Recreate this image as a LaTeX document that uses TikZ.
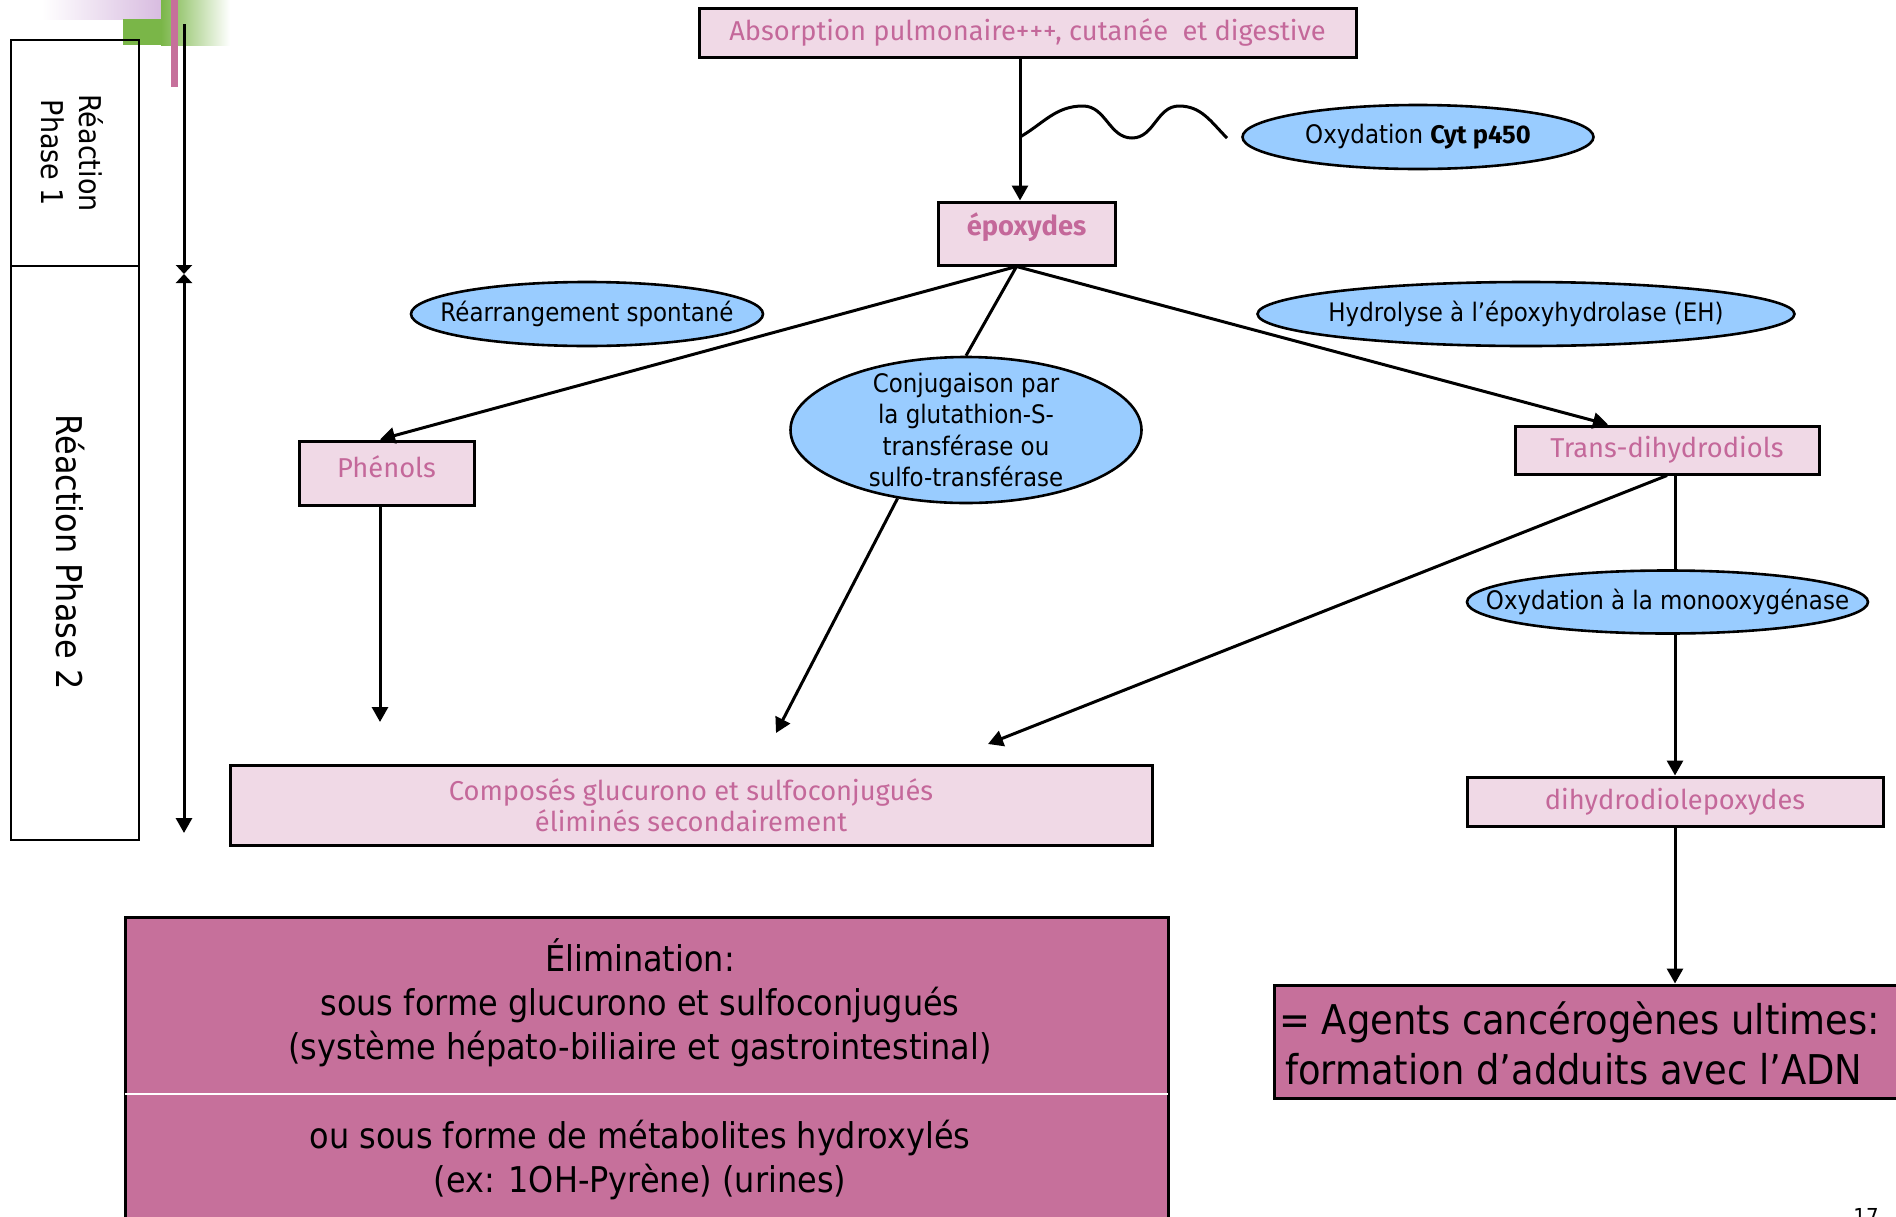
\documentclass[tikz,border=0pt]{standalone}
\usepackage{fontspec}
\setmainfont{DejaVu Sans}[FakeStretch=0.9]
\newfontfamily\pinkfont{Fira Sans}
\usetikzlibrary{arrows.meta,shapes.geometric}

\definecolor{boxpink}{HTML}{F0D9E6}
\definecolor{textpink}{HTML}{C4689A}
\definecolor{mauve}{HTML}{C6709B}
\definecolor{skyblue}{HTML}{99CCFF}
\definecolor{leafgreen}{HTML}{7AB648}
\definecolor{lilac}{HTML}{D8BCE0}

\begin{document}
\begin{tikzpicture}[x=1pt,y=-1pt,>={Triangle[length=15pt,width=16pt]},
    pinkbox/.style={draw,line width=3pt,fill=boxpink,text=textpink,align=center,
      font=\pinkfont\fontsize{27.3}{31}\selectfont,inner sep=0pt},
    bluebubble/.style={ellipse,draw,line width=2.6pt,fill=skyblue,align=center,
      font=\fontsize{25.5}{31.5}\selectfont,inner xsep=-60pt,inner ysep=-12pt},
    mauvebox/.style={draw,line width=3pt,fill=mauve,inner sep=0pt},
    phasebox/.style={draw,line width=2.8pt,inner sep=0pt,minimum width=128pt},
    link/.style={line width=3pt}]
  \useasboundingbox (0,0) rectangle (1896,1216);
  \clip (0,0) rectangle (1896,1216);

  % slide corner
  \shade[left color=white,right color=lilac] (42,0) rectangle (161,19);
  \fill[leafgreen] (123,19) rectangle (161,45);
  \shade[left color=leafgreen,right color=white] (161,0) rectangle (230,45);
  \fill[mauve] (171,0) rectangle (178,87);

  % phases
  \node[phasebox,minimum height=226pt] (ph1) at (75,153) {};
  \node[phasebox,minimum height=574pt] (ph2) at (75,553) {};
  \node[rotate=-90,align=center,font=\fontsize{30}{38}\selectfont] (ph1txt) at (72.5,153) {Réaction\\Phase 1};
  \node[rotate=-90,font=\fontsize{35.5}{40}\selectfont] (ph2txt) at (70,552) {Réaction Phase 2};
  \coordinate (vTop) at (184,24);
  \coordinate (vMid) at (184,274);
  \coordinate (vBot) at (184,833);
  \draw[link,-{Triangle[length=9pt,width=16pt]}] (vTop) -- (vMid);
  \draw[link,{Triangle[length=9pt,width=16pt]}-{Triangle[length=15pt,width=16pt]}] (vMid) -- (vBot);

  % boxes
  \node[pinkbox,minimum width=657pt,minimum height=49pt] (absorb) at (1027.5,32.5) {Absorption pulmonaire+++, cutanée~ et digestive};
  \node[pinkbox,minimum width=177pt,minimum height=63pt,text depth=18pt,font=\pinkfont\bfseries\fontsize{27.3}{31}\selectfont] (epox) at (1026.5,233.5) {époxydes};
  \node[pinkbox,minimum width=175pt,minimum height=64pt,text depth=12pt] (phen) at (386.5,473) {Phénols};
  \node[pinkbox,minimum width=304pt,minimum height=48pt] (trans) at (1667,450) {Trans-dihydrodiols};
  \node[pinkbox,minimum width=416pt,minimum height=49pt] (dihyd) at (1675,801.5) {dihydrodiolepoxydes};
  \node[pinkbox,minimum width=922pt,minimum height=80pt] (compo) at (691,805) {Composés glucurono et sulfoconjugués\\éliminés secondairement};

  % enzymes
  \node[bluebubble,minimum width=351pt,minimum height=64pt] (cyp) at (1418,137) {Oxydation {\pinkfont\bfseries Cyt p450}};
  \node[bluebubble,minimum width=352pt,minimum height=64pt] (rearr) at (587,314) {Réarrangement spontané};
  \node[bluebubble,minimum width=537pt,minimum height=64pt] (hydro) at (1526,314) {Hydrolyse à l’époxyhydrolase (EH)};
  \node[bluebubble,minimum width=351pt,minimum height=146pt] (conj) at (966,430) {Conjugaison par\\la glutathion-S-\\transférase ou\\sulfo-transférase};
  \node[bluebubble,minimum width=401pt,minimum height=63pt] (mono) at (1667.5,602) {Oxydation à la monooxygénase};

  % elimination
  \node[mauvebox,minimum width=1043pt,minimum height=313pt] (elim) at (646.5,1073.5) {};
  \draw[white,line width=1.5pt,shorten <=1.5pt,shorten >=1.5pt] (elim.west |- 0,1094) -- (elim.east |- 0,1094);
  \node[align=center,font=\fontsize{35.5}{44}\selectfont] (elimTop) at (640,1003) {Élimination:\\sous forme glucurono et sulfoconjugués\\(système hépato-biliaire et gastrointestinal)};
  \node[align=center,font=\fontsize{35.5}{44}\selectfont] (elimBot) at (640,1160) {ou sous forme de métabolites hydroxylés\\(ex: 1OH-Pyrène) (urines)};
  \node[mauvebox,minimum width=660pt,minimum height=113pt] (agents) at (1604,1041.5) {};
  \node[anchor=west,align=left,inner sep=0pt,font=\fontsize{41}{50}\selectfont] (agentsTxt) at (1279,1043.5) {= Agents cancérogènes ultimes:\\\hspace*{6pt}formation d’adduits avec l’ADN};
  \node[anchor=north,inner sep=0pt,font=\fontsize{22}{22}\selectfont] (pageno) at (1866,1208) {17};

  % arrows
  \coordinate (jA) at (1020,137);
  \draw[link,->] (absorb.south -| jA) -- (epox.north -| jA);
  \draw[link] (jA) to[out=30,in=180] ++(63,-31) to[out=0,in=180] ++(49,32)
    to[out=0,in=180] ++(47,-32) to[out=0,in=135] ++(48,32);
  \coordinate (fan) at ([xshift=-10pt]epox.south);
  \coordinate (phenOut) at (380,722);
  \coordinate (conjOut) at (776,733);
  \coordinate (transOut) at (988,744);
  \draw[link,->] (fan) -- (phen.north -| phenOut);
  \draw[link] (fan) -- (conj.north);
  \draw[link,->] (fan) -- ([xshift=-59pt]trans.north);
  \draw[link,->] (phen.south -| phenOut) -- (phenOut);
  \draw[link,->] (conj.225) -- (conjOut);
  \draw[link,->] (trans.south) -- (transOut);
  \draw[link] (trans.south -| dihyd.north) -- (mono.north -| dihyd.north);
  \draw[link,->] (mono.south -| dihyd.north) -- (dihyd.north);
  \draw[link,->] (dihyd.south) -- (dihyd.south |- agents.north);
\end{tikzpicture}
\end{document}
